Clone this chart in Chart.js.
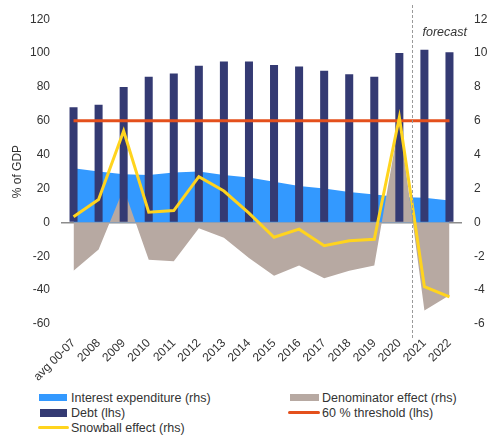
<!DOCTYPE html>
<html>
<head>
	<title>Debt dynamics</title>
	<script src="https://cdn.jsdelivr.net/npm/chart.js"></script>
	<style>
		body {
			margin: 0;
			font-family: "Liberation Sans", Arial, sans-serif;
			background: #fff;
		}
		#wrap {
			position: relative;
			width: 489px;
			height: 437px;
		}
		canvas {
			position: absolute;
			left: 0;
			top: 0;
		}
		.item {
			position: absolute;
			height: 15px;
			display: flex;
			align-items: center;
			font-size: 12.5px;
			color: #333;
			white-space: nowrap;
		}
		.sw {
			display: inline-block;
			margin-right: 4px;
		}
	</style>
</head>
<body>
<div id="wrap">
	<canvas id="myChart" width="489" height="388"></canvas>
	<div class="item" style="left:39px; top:390px;"><span class="sw" style="width:28px; height:7px; background:#3399FF;"></span>Interest expenditure (rhs)</div>
	<div class="item" style="left:290px; top:390px;"><span class="sw" style="width:29px; height:7px; background:#B7A9A2; margin-right:3px;"></span>Denominator effect (rhs)</div>
	<div class="item" style="left:40px; top:405px;"><span class="sw" style="width:27px; height:8px; background:#343A73;"></span>Debt (lhs)</div>
	<div class="item" style="left:288px; top:405px;"><span class="sw" style="width:32px; height:3px; border-radius:2px; background:#E4501C; margin-right:2px;"></span>60 % threshold (lhs)</div>
	<div class="item" style="left:38px; top:420px;"><span class="sw" style="width:31px; height:3px; border-radius:2px; background:#FFD41E; margin-right:2px;"></span>Snowball effect (rhs)</div>
</div>
<script>
	// categories and values
	var categories = ['avg 00-07', '2008', '2009', '2010', '2011', '2012', '2013', '2014',
		'2015', '2016', '2017', '2018', '2019', '2020', '2021', '2022'];
	var debt = [68, 69.5, 80, 86, 88, 92.5, 95, 95, 93, 92, 89.5, 87.5, 86, 100, 102, 100.5];
	var threshold = [60, 60, 60, 60, 60, 60, 60, 60, 60, 60, 60, 60, 60, 60, 60, 60];
	var interest = [3.2, 3.0, 2.85, 2.8, 2.95, 3.0, 2.8, 2.65, 2.4, 2.15, 2.0, 1.8, 1.65, 1.5, 1.45, 1.3];
	var denominator = [-2.85, -1.6, 2.0, -2.2, -2.3, -0.35, -0.9, -2.1, -3.15, -2.55, -3.3, -2.85, -2.55, 6.0, -5.2, -4.3];
	var snowball = [0.33, 1.35, 5.4, 0.6, 0.7, 2.7, 1.85, 0.55, -0.88, -0.4, -1.38, -1.08, -1.0, 6.2, -3.8, -4.4];

	var tickFont = { family: '"Liberation Sans", Arial, sans-serif', size: 12 };
	var tickColor = '#333';

	// dashed divider between actuals and forecast
	var forecastLine = {
		id: 'forecastLine',
		afterDatasetsDraw: function(chart) {
			var ctx = chart.ctx;
			var x = chart.scales.x;
			var px = Math.round((x.getPixelForValue(13) + x.getPixelForValue(14)) / 2) + 0.5;
			ctx.save();
			ctx.strokeStyle = '#9a9a9a';
			ctx.lineWidth = 1;
			ctx.setLineDash([3, 2]);
			ctx.beginPath();
			ctx.moveTo(px, 5);
			ctx.lineTo(px, 338);
			ctx.stroke();
			ctx.setLineDash([]);
			ctx.fillStyle = '#333';
			ctx.font = 'italic 12.5px "Liberation Sans", Arial, sans-serif';
			ctx.textBaseline = 'middle';
			ctx.fillText('forecast', px + 10, 33);
			ctx.restore();
		}
	};

	var ctx = document.getElementById('myChart').getContext('2d');
	var chart = new Chart(ctx, {
		type: 'bar',
		data: {
			labels: categories,
			datasets: [
				{
					type: 'line',
					label: 'Snowball effect (rhs)',
					data: snowball,
					yAxisID: 'y1',
					borderColor: '#FFD41E',
					borderWidth: 3,
					pointRadius: 0,
					tension: 0,
					fill: false,
					order: 0
				},
				{
					type: 'line',
					label: '60 % threshold (lhs)',
					data: threshold,
					yAxisID: 'y',
					borderColor: '#E4501C',
					borderWidth: 3,
					pointRadius: 0,
					fill: false,
					order: 1
				},
				{
					type: 'bar',
					label: 'Debt (lhs)',
					data: debt,
					yAxisID: 'y',
					backgroundColor: '#343A73',
					barPercentage: 0.32,
					categoryPercentage: 1,
					order: 2
				},
				{
					type: 'line',
					label: 'Denominator effect (rhs)',
					data: denominator,
					yAxisID: 'y1',
					backgroundColor: '#B7A9A2',
					borderWidth: 0,
					pointRadius: 0,
					fill: 'origin',
					order: 3
				},
				{
					type: 'line',
					label: 'Interest expenditure (rhs)',
					data: interest,
					yAxisID: 'y1',
					backgroundColor: '#3399FF',
					borderWidth: 0,
					pointRadius: 0,
					fill: 'origin',
					order: 4
				}
			]
		},
		options: {
			responsive: false,
			animation: false,
			layout: { padding: { top: 18, left: 0, right: 0, bottom: 0 } },
			plugins: {
				legend: { display: false },
				tooltip: { enabled: false }
			},
			scales: {
				x: {
					grid: { display: false },
					border: { display: false },
					ticks: {
						font: tickFont,
						color: tickColor,
						minRotation: 45,
						maxRotation: 45,
						autoSkip: false,
						padding: 4
					},
					afterFit: function(s) { s.height = 64; }
				},
				y: {
					position: 'left',
					min: -60,
					max: 120,
					ticks: { stepSize: 20, font: tickFont, color: tickColor, padding: 11 },
					grid: {
						drawTicks: false,
						lineWidth: 1.5,
						color: function(c) { return c.tick && c.tick.value === 0 ? '#8c8c8c' : 'transparent'; }
					},
					border: { display: false },
					title: {
						display: true,
						text: '% of GDP',
						font: tickFont,
						color: tickColor,
						padding: { top: 10, bottom: 0 }
					},
					afterFit: function(s) { s.width = 61; }
				},
				y1: {
					position: 'right',
					min: -6,
					max: 12,
					ticks: { stepSize: 2, font: tickFont, color: tickColor, padding: 12 },
					grid: { display: false, drawTicks: false },
					border: { display: false },
					afterFit: function(s) { s.width = 27; }
				}
			}
		},
		plugins: [forecastLine]
	});
</script>
</body>
</html>
